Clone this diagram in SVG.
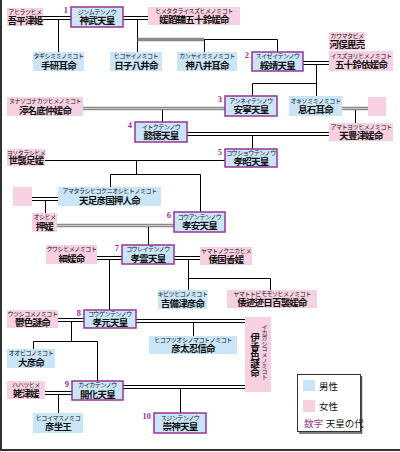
<svg xmlns="http://www.w3.org/2000/svg" width="400" height="452" viewBox="0 0 400 452">
<style>
.m{fill:#c9e5f7}
.f{fill:#f7d1e1}
.e{fill:#c9e5f7;stroke:#993399;stroke-width:1.5}
.k{font-family:"Liberation Sans","Noto Sans CJK JP",sans-serif;font-size:6px;text-anchor:middle;letter-spacing:-0.45px;fill:#111}
.n{font-family:"Liberation Sans","Noto Sans CJK JP",sans-serif;font-size:9.5px;font-weight:bold;text-anchor:middle;letter-spacing:-0.8px;fill:#111}
.num{font-family:"Liberation Serif",serif;font-size:8.5px;font-weight:bold;fill:#993399;text-anchor:end}
.l{stroke:#000;stroke-width:1;fill:none}
.g{stroke:#8a8a8a;stroke-width:3.5;fill:none}
.g2{stroke:#c8c8c8;stroke-width:1;fill:none}
.lg{font-family:"Liberation Sans","Noto Sans CJK JP",sans-serif;font-size:9.5px;fill:#111}
</style>
<rect width="400" height="452" fill="#fff"/>
<path d="M1,0V450M0,450H400" stroke="#333" stroke-width="2" fill="none"/>
<g id="connectors">
<path class="l" d="M43,16.5H71M43,19.5H71M123,16.5H148M123,19.5H148M58.5,19.5V52M137.5,19.5V52"/>
<path class="g" d="M137.5,39.5H204"/>
<path class="l" d="M204,39.5H277.5V52M204.5,39.5V52"/>
<path class="l" d="M303,61.5H329M303,64.5H329M316.5,64.5V96M252.5,83.5H316.5M252.5,83.5V96"/>
<path class="g" d="M83,108.5H225M342,108.5H368"/>
<path class="g2" d="M83,108.5H225M342,108.5H368"/>
<path class="l" d="M162.5,110V122M355.5,110V123"/>
<path class="l" d="M187,132.5H329M187,135.5H329M252.5,135.5V149"/>
<path class="l" d="M45,160.5H225M136.5,160.5V174.5M110.5,174.5H200.5M110.5,174.5V187M200.5,174.5V212"/>
<path class="l" d="M32,197.5H58M32,200.5H58M45.5,200.5V213"/>
<path class="g" d="M57,225.5H174"/>
<path class="g2" d="M57,225.5H174"/>
<path class="l" d="M148.5,227V245"/>
<path class="l" d="M97,256.5H122M97,259.5H122M109.5,259.5V310M174,256.5H200M174,259.5H200M188.5,259.5V290M188.5,278.5H270.5V290"/>
<path class="l" d="M58,318.5H84M58,321.5H84M71.5,321.5V341.5M33.5,341.5H97.5M33.5,341.5V349M97.5,341.5V381"/>
<path class="l" d="M136,319.5H245M136,322.5H245M193.5,322.5V336"/>
<path class="l" d="M45,391.5H72M45,394.5H72M58.5,394.5V413"/>
<path class="l" d="M123,385.5H245M123,388.5H245M180.5,388.5V413"/>
</g>
<g id="n-ahira"><rect class="f" x="7" y="8" width="36" height="18"/><text class="k" x="25" y="14">アヒラツヒメ</text><text class="n" x="25" y="23.5">吾平津姫</text></g>
<g id="n-jinmu"><rect class="e" x="71" y="7" width="52" height="20"/><text class="num" x="68" y="13">1</text><text class="k" x="97" y="13.5">ジンムテンノウ</text><text class="n" x="97" y="24">神武天皇</text></g>
<g id="n-himetatara"><rect class="f" x="148" y="7" width="92" height="18"/><text class="k" x="194" y="13">ヒメタタライスズヒメノミコト</text><text class="n" x="194" y="22.5">媛蹈鞴五十鈴媛命</text></g>
<g id="n-tagishi"><rect class="m" x="33" y="52" width="51" height="19"/><text class="k" x="58.5" y="58">タギシミミノミコト</text><text class="n" x="58.5" y="68.5">手研耳命</text></g>
<g id="n-hikoyai"><rect class="m" x="110" y="52" width="52" height="19"/><text class="k" x="136" y="58">ヒコヤイノミコト</text><text class="n" x="136" y="68.5">日子八井命</text></g>
<g id="n-kanyai"><rect class="m" x="177" y="52" width="60" height="19"/><text class="k" x="207" y="58">カンヤイミミノミコト</text><text class="n" x="207" y="68.5">神八井耳命</text></g>
<g id="n-suizei"><rect class="e" x="252" y="52" width="51" height="19"/><text class="num" x="249" y="58">2</text><text class="k" x="277.5" y="58">スイゼイテンノウ</text><text class="n" x="277.5" y="68.5">綏靖天皇</text></g>
<g id="n-kawamata"><rect class="f" x="329" y="32" width="36" height="18"/><text class="k" x="347" y="38">カワマタビメ</text><text class="n" x="347" y="47.5">河俣毘売</text></g>
<g id="n-isuzuyori"><rect class="f" x="329" y="51" width="64" height="20"/><text class="k" x="361" y="57.5">イスズヨリヒメノミコト</text><text class="n" x="361" y="68">五十鈴依媛命</text></g>
<g id="n-nunasoko"><rect class="f" x="7" y="97" width="76" height="19"/><text class="k" x="45" y="103">ヌナソコナカツヒメノミコト</text><text class="n" x="45" y="113.5">渟名底仲媛命</text></g>
<g id="n-annei"><rect class="e" x="225" y="96" width="52" height="20"/><text class="num" x="222" y="102">3</text><text class="k" x="251" y="102.5">アンネイテンノウ</text><text class="n" x="251" y="113">安寧天皇</text></g>
<g id="n-okiso"><rect class="m" x="289" y="96" width="53" height="20"/><text class="k" x="315.5" y="102.5">オキソミミノミコト</text><text class="n" x="315.5" y="113">息石耳命</text></g>
<g id="n-blank1"><rect class="f" x="368" y="97" width="18" height="19"/></g>
<g id="n-itoku"><rect class="e" x="135" y="122" width="52" height="20"/><text class="num" x="132" y="128">4</text><text class="k" x="161" y="128.5">イトクテンノウ</text><text class="n" x="161" y="139">懿徳天皇</text></g>
<g id="n-amatoyo"><rect class="f" x="329" y="123" width="64" height="18"/><text class="k" x="361" y="129">アマトヨツヒメノミコト</text><text class="n" x="361" y="138.5">天豊津媛命</text></g>
<g id="n-yoso"><rect class="f" x="7" y="149" width="38" height="17"/><text class="k" x="26" y="154.5">ヨソタラシヒメ</text><text class="n" x="26" y="164">世襲足媛</text></g>
<g id="n-kosho"><rect class="e" x="225" y="149" width="52" height="18"/><text class="num" x="222" y="155">5</text><text class="k" x="251" y="155">コウショウテンノウ</text><text class="n" x="251" y="164.5">孝昭天皇</text></g>
<g id="n-blank2"><rect class="f" x="13" y="187" width="19" height="19"/></g>
<g id="n-amatarashi"><rect class="m" x="58" y="187" width="103" height="19"/><text class="k" x="109.5" y="193">アマタラシヒコクニオシヒトノミコト</text><text class="n" x="109.5" y="203.5">天足彦国押人命</text></g>
<g id="n-oshi"><rect class="f" x="32" y="213" width="25" height="19"/><text class="k" x="44.5" y="219">オシヒメ</text><text class="n" x="44.5" y="229.5">押媛</text></g>
<g id="n-koan"><rect class="e" x="174" y="212" width="51" height="20"/><text class="num" x="171" y="218">6</text><text class="k" x="199.5" y="218.5">コウアンテンノウ</text><text class="n" x="199.5" y="229">孝安天皇</text></g>
<g id="n-kuwashi"><rect class="f" x="46" y="245" width="51" height="19"/><text class="k" x="71.5" y="251">クワシヒメノミコト</text><text class="n" x="71.5" y="261.5">細媛命</text></g>
<g id="n-korei"><rect class="e" x="122" y="245" width="52" height="19"/><text class="num" x="119" y="251">7</text><text class="k" x="148" y="251">コウレイテンノウ</text><text class="n" x="148" y="261.5">孝霊天皇</text></g>
<g id="n-kunika"><rect class="f" x="200" y="247" width="52" height="18"/><text class="k" x="226" y="253">ヤマトノクニカヒメ</text><text class="n" x="226" y="262.5">倭国香媛</text></g>
<g id="n-kibitsu"><rect class="m" x="158" y="290" width="49" height="19"/><text class="k" x="182.5" y="296">キビツヒコノミコト</text><text class="n" x="182.5" y="306.5">吉備津彦命</text></g>
<g id="n-momoso"><rect class="f" x="227" y="290" width="90" height="18"/><text class="k" x="272" y="296">ヤマトトビモモソヒメノミコト</text><text class="n" x="272" y="305.5">倭迹迹日百襲媛命</text></g>
<g id="n-utsushi"><rect class="f" x="7" y="310" width="51" height="18"/><text class="k" x="32.5" y="316">ウツシコメノミコト</text><text class="n" x="32.5" y="325.5">鬱色謎命</text></g>
<g id="n-kogen"><rect class="e" x="84" y="310" width="52" height="18"/><text class="num" x="81" y="316">8</text><text class="k" x="110" y="316">コウゲンテンノウ</text><text class="n" x="110" y="325.5">孝元天皇</text></g>
<g id="n-hikofutsu"><rect class="m" x="149" y="336" width="88" height="18"/><text class="k" x="193" y="342">ヒコフツオシノマコトノミコト</text><text class="n" x="193" y="351.5">彦太忍信命</text></g>
<g id="n-ikagashi"><rect class="f" x="245" y="317" width="26" height="75"/><text class="k" x="264" y="324" style="writing-mode:vertical-rl;text-anchor:start">イカガシコメノミコト</text><text class="n" x="254.5" y="333" style="writing-mode:vertical-rl;text-anchor:start">伊香色謎命</text></g>
<g id="n-ohbiko"><rect class="m" x="7" y="349" width="48" height="19"/><text class="k" x="31" y="355">オオビコノミコト</text><text class="n" x="31" y="365.5">大彦命</text></g>
<g id="n-kaika"><rect class="e" x="72" y="381" width="51" height="19"/><text class="num" x="69" y="387">9</text><text class="k" x="97.5" y="387">カイカテンノウ</text><text class="n" x="97.5" y="397.5">開化天皇</text></g>
<g id="n-hahatsu"><rect class="f" x="7" y="381" width="38" height="18"/><text class="k" x="26" y="387">ハハツヒメ</text><text class="n" x="26" y="396.5">姥津媛</text></g>
<g id="n-hikoimasu"><rect class="m" x="33" y="413" width="50" height="20"/><text class="k" x="58" y="419.5">ヒコイマスノミコ</text><text class="n" x="58" y="430">彦坐王</text></g>
<g id="n-sujin"><rect class="e" x="154" y="413" width="52" height="20"/><text class="num" x="151" y="419">10</text><text class="k" x="180" y="419.5">スジンテンノウ</text><text class="n" x="180" y="430">崇神天皇</text></g>
<g id="legend">
<rect x="297.5" y="374.5" width="63" height="57" fill="#fff" stroke="#333" stroke-width="1"/>
<path d="M361.5,376V433H299" stroke="#555" stroke-width="1.5" fill="none"/>
<rect class="m" x="303" y="380" width="12" height="11"/>
<text class="lg" x="319" y="390">男性</text>
<rect class="f" x="303" y="400" width="12" height="12"/>
<text class="lg" x="319" y="410">女性</text>
<text class="lg" x="304" y="427"><tspan fill="#993399">数字</tspan> 天皇の代</text>
</g>
</svg>
